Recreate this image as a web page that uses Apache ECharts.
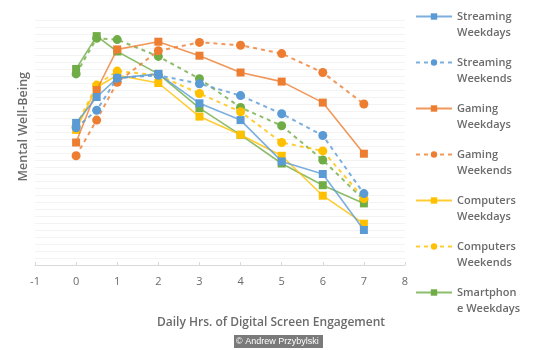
<!DOCTYPE html>
<html><head><meta charset="utf-8">
<script src="https://cdn.jsdelivr.net/npm/echarts@6/dist/echarts.min.js"></script>
<style>html,body{margin:0;padding:0;background:#fff}#c{width:555px;height:350px}</style>
</head><body><div id="c"></div>
<script>
const hours = [0, 0.5, 1, 2, 3, 4, 5, 6, 7];
const xTicks = [-1, 0, 1, 2, 3, 4, 5, 6, 7, 8];
const streamingWeekdays = [20.3, 24.0, 26.7, 27.3, 23.1, 20.7, 14.8, 13.0, 5.0];
const streamingWeekends = [19.6, 22.1, 26.7, 27.1, 25.9, 24.2, 21.6, 18.5, 10.2];
const gamingWeekdays = [17.5, 25.0, 30.8, 31.9, 29.9, 27.5, 26.2, 23.2, 15.9];
const gamingWeekends = [15.6, 20.7, 26.1, 30.6, 31.8, 31.4, 30.2, 27.5, 23.0];
const computersWeekdays = [19.3, 25.4, 27.1, 26.0, 21.2, 18.6, 15.6, 9.9, 5.9];
const computersWeekends = [19.8, 25.7, 27.7, 27.1, 24.5, 21.9, 17.5, 16.3, 9.5];
const smartphoneWeekdays = [28.0, 32.7, 30.5, 27.3, 22.4, 18.6, 14.5, 11.4, 8.8];
const smartphoneWeekends = [27.3, 32.4, 32.2, 29.8, 26.6, 22.5, 19.9, 15.0, 9.3];
const seriesNames = ['Streaming Weekdays','Streaming Weekends','Gaming Weekdays','Gaming Weekends','Computers Weekdays','Computers Weekends','Smartphone Weekdays','Smartphone Weekends'];
const legendLabels = {'Streaming Weekdays':'Streaming\nWeekdays','Streaming Weekends':'Streaming\nWeekends','Gaming Weekdays':'Gaming\nWeekdays','Gaming Weekends':'Gaming\nWeekends','Computers Weekdays':'Computers\nWeekdays','Computers Weekends':'Computers\nWeekends','Smartphone Weekdays':'Smartphon\ne Weekdays','Smartphone Weekends':'Smartphon\ne Weekends'};
const values = [streamingWeekdays, streamingWeekends, gamingWeekdays, gamingWeekends, computersWeekdays, computersWeekends, smartphoneWeekdays, smartphoneWeekends];
const colors = ['#5B9BD5','#5B9BD5','#ED7D31','#ED7D31','#FFC000','#FFC000','#70AD47','#70AD47'];
const FONT = '"Open Sans", "Liberation Sans", sans-serif';
const TXT = '#6b6b6b';

const series = values.map((vals, i) => {
  const weekend = i % 2 === 1;
  return {
    name: seriesNames[i], type: 'line',
    data: vals.map((v, j) => [hours[j], v]),
    symbol: weekend ? 'circle' : 'rect',
    symbolSize: weekend ? 9 : 8,
    itemStyle: {color: colors[i]},
    lineStyle: {color: colors[i], width: weekend ? 2 : 1.6, type: weekend ? [4, 4] : 'solid', opacity: 0.8},
    z: 2 + (7 - i)
  };
});

const chart = echarts.init(document.getElementById('c'), null, {renderer: 'canvas'});
chart.setOption({
  animation: false,
  color: colors,
  grid: {left: 35, right: 150, top: 20, height: 245},
  xAxis: {
    type: 'value', min: xTicks[0], max: xTicks[xTicks.length - 1], interval: 1,
    axisLine: {lineStyle: {color: '#d9d9d9', width: 1}},
    axisTick: {show: true, inside: true, length: 3, lineStyle: {color: '#d9d9d9'}},
    axisLabel: {color: TXT, fontSize: 11, fontFamily: FONT, margin: 11},
    splitLine: {show: false}
  },
  yAxis: {
    type: 'value', min: 0, max: 35, interval: 1,
    axisLine: {show: false}, axisTick: {show: false}, axisLabel: {show: false},
    splitLine: {lineStyle: {color: '#f3f3f3', width: 1}}
  },
  legend: {
    orient: 'vertical', left: 415, top: -7.5, padding: 0,
    data: seriesNames.slice(0, 7),
    itemWidth: 36, itemHeight: 8, itemGap: -2,
    formatter: n => '\n' + legendLabels[n],
    textStyle: {color: TXT, fontSize: 11, fontFamily: FONT, fontWeight: 600, lineHeight: 16}
  },
  graphic: [
    {type: 'text', left: 17, top: 72, rotation: Math.PI / 2,
     style: {text: 'Mental Well-Being', fill: TXT, font: '600 12.5px ' + FONT}},
    {type: 'text', left: 157, top: 317,
     style: {text: 'Daily Hrs. of Digital Screen Engagement', fill: TXT, font: '600 12px ' + FONT}},
    {type: 'rect', left: 234, top: 335, shape: {width: 89, height: 13}, style: {fill: '#7a7a7a'}},
    {type: 'text', left: 236, top: 337,
     style: {text: '© Andrew Przybylski', fill: '#ffffff', font: '9px "Liberation Sans", sans-serif'}}
  ],
  series: series
});
</script></body></html>
